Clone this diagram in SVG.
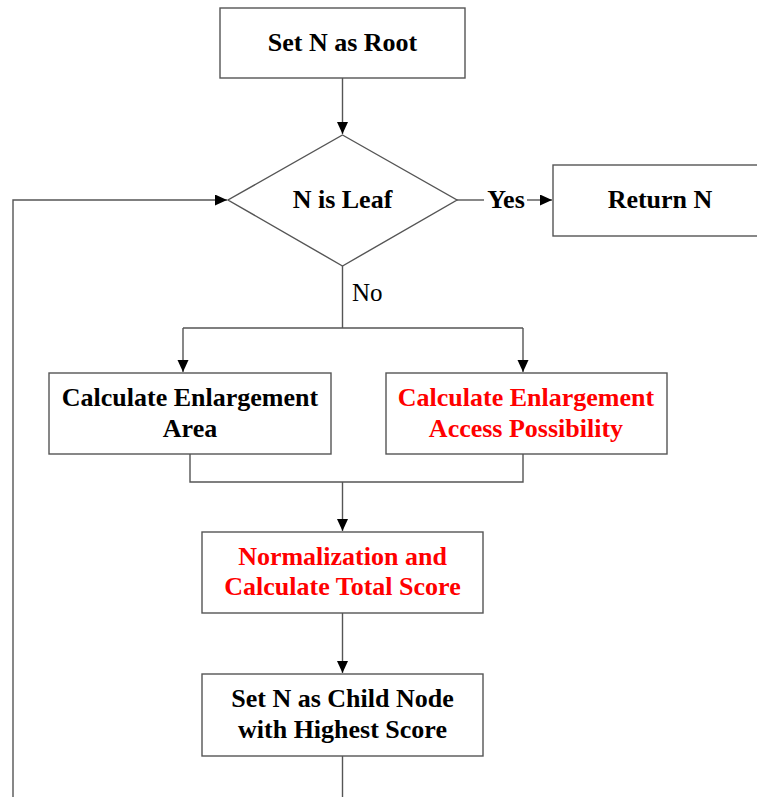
<svg xmlns="http://www.w3.org/2000/svg" width="757" height="797" viewBox="0 0 757 797">
<defs>
<marker id="ah" markerWidth="13" markerHeight="13" refX="12" refY="5.5" orient="auto" markerUnits="userSpaceOnUse">
<path d="M0,0 L12,5.5 L0,11 Z" fill="#000"/>
</marker>
<style>
.box{fill:#fff;stroke:#555;stroke-width:1.4}
.ln{fill:none;stroke:#555;stroke-width:1.4}
.t{font-family:"Liberation Serif","Times New Roman",serif;font-size:26px;font-weight:bold;text-anchor:middle;fill:#000}
.r{fill:#ff0000}
.n{font-weight:normal;text-anchor:start;font-size:25px}
</style>
</defs>
<rect width="757" height="797" fill="#fff"/>
<g id="connectors">
<path class="ln" d="M342.5,78 V134" marker-end="url(#ah)"/>
<path class="ln" d="M457,200 H484"/>
<path class="ln" d="M527,200 H552" marker-end="url(#ah)"/>
<path class="ln" d="M342.5,266 V328 M183,328 H523"/>
<path class="ln" d="M183,328 V372" marker-end="url(#ah)"/>
<path class="ln" d="M523,328 V372" marker-end="url(#ah)"/>
<path class="ln" d="M190,454 V482 H523 V454"/>
<path class="ln" d="M342.5,482 V531" marker-end="url(#ah)"/>
<path class="ln" d="M342.5,613 V673" marker-end="url(#ah)"/>
<path class="ln" d="M342.5,756 V797"/>
<path class="ln" d="M13,797 V200 H227" marker-end="url(#ah)"/>
<text class="t" x="506" y="208">Yes</text>
<text class="t n" x="352" y="301">No</text>
</g>
<g id="setRoot">
<rect class="box" x="220" y="8" width="245" height="70"/>
<text class="t" x="342.5" y="51">Set N as Root</text>
</g>
<g id="isLeaf">
<polygon class="box" points="342.5,135 457,200 342.5,266 228,200"/>
<text class="t" x="342.5" y="208">N is Leaf</text>
</g>
<g id="returnN">
<rect class="box" x="553" y="165" width="215" height="71"/>
<text class="t" x="660" y="208">Return N</text>
</g>
<g id="calcArea">
<rect class="box" x="49" y="373" width="282" height="81"/>
<text class="t" x="190" y="406">Calculate Enlargement</text>
<text class="t" x="190" y="437">Area</text>
</g>
<g id="calcAccess">
<rect class="box" x="386" y="373" width="281" height="81"/>
<text class="t r" x="526" y="406">Calculate Enlargement</text>
<text class="t r" x="526" y="437">Access Possibility</text>
</g>
<g id="normalize">
<rect class="box" x="202" y="532" width="281" height="81"/>
<text class="t r" x="342.5" y="565">Normalization and</text>
<text class="t r" x="342.5" y="595">Calculate Total Score</text>
</g>
<g id="setChild">
<rect class="box" x="202" y="674" width="281" height="82"/>
<text class="t" x="342.5" y="707">Set N as Child Node</text>
<text class="t" x="342.5" y="738">with Highest Score</text>
</g>
</svg>
